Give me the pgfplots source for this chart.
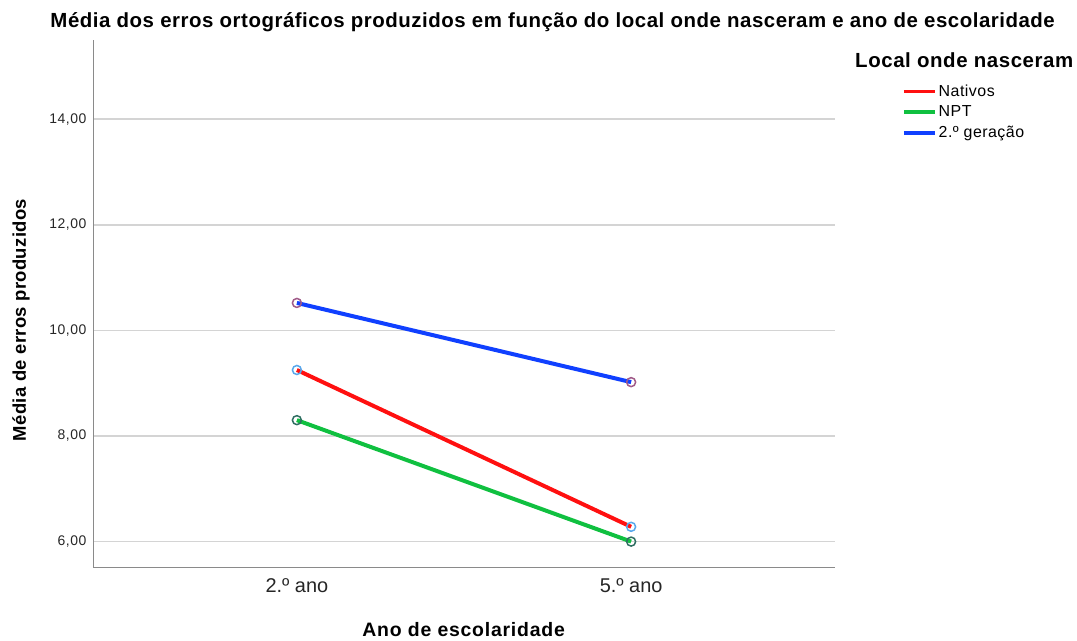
\documentclass[border=0pt]{standalone}
\usepackage{fontspec}
\setmainfont{Liberation Sans}
\usepackage{pgfplots}
\pgfplotsset{compat=1.18}
\definecolor{cRed}{HTML}{FF1010}
\definecolor{cGreen}{HTML}{10C040}
\definecolor{cBlue}{HTML}{1040FF}
\definecolor{mBlueLine}{HTML}{A05A88}
\definecolor{mRedLine}{HTML}{58A8EC}
\definecolor{mGreenLine}{HTML}{2F6E62}
\definecolor{gridc}{HTML}{D4D4D4}
\definecolor{axc}{HTML}{8A8A8A}
\newcommand\fs[2]{\fontsize{#1}{#1}\selectfont\addfontfeatures{LetterSpace=#2}}
\begin{document}
\begin{tikzpicture}[x=1bp,y=1bp]
\path[use as bounding box] (0,0) rectangle (1077,641);
\begin{axis}[
  at={(93bp,73bp)}, anchor=south west,
  scale only axis, width=742bp, height=528bp,
  xmin=-0.61, xmax=1.61, ymin=5.5, ymax=15.5,
  xtick={0,1}, xticklabels={2.º ano, 5.º ano},
  ytick={6,8,10,12,14},
  axis x line*=bottom, axis y line*=left,
  axis line style={draw=axc, line width=1bp, -},
  major tick length=0pt,
  ymajorgrids, grid style={draw=gridc, line width=1.6bp},
  /pgf/number format/.cd, fixed, fixed zerofill, precision=2, use comma, assume math mode=true,
  /pgfplots/.cd,
  yticklabel style={font=\fs{14}{4}, color=black!85, xshift=-3bp},
  xticklabel style={font=\fs{20}{0}, color=black!85, yshift=-7bp},
  xlabel={\textbf{Ano de escolaridade}},
  xlabel style={font=\bfseries\fs{19.5}{4}, at={(axis description cs:0.5,-0.116)}, anchor=center},
  ylabel={\textbf{Média de erros produzidos}},
  ylabel style={font=\bfseries\fs{18.5}{2}, at={(axis description cs:-0.097,0.47)}, anchor=center},
  clip=false,
  legend style={at={(axis description cs:1.0903,0.919)}, anchor=north west, draw=none, fill=none,
    font=\fs{16}{3}, row sep=4bp, inner sep=0pt},
  legend cell align=left,
  legend image code/.code={\draw[line width=3.5bp] (0bp,0bp) -- (31bp,0bp);},
]
\addplot[cRed, line width=4bp] coordinates {(0,9.25) (1,6.28)};
\addlegendentry{Nativos}
\addplot[cGreen, line width=4bp] coordinates {(0,8.30) (1,6.00)};
\addlegendentry{NPT}
\addplot[cBlue, line width=4bp] coordinates {(0,10.52) (1,9.02)};
\addlegendentry{2.º geração}
\addplot[only marks, mark=o, mark size=4.5bp, mRedLine, mark options={line width=1.5bp}, forget plot] coordinates {(0,9.25) (1,6.28)};
\addplot[only marks, mark=o, mark size=4.5bp, mGreenLine, mark options={line width=1.5bp}, forget plot] coordinates {(0,8.30) (1,6.00)};
\addplot[only marks, mark=o, mark size=4.5bp, mBlueLine, mark options={line width=1.5bp}, forget plot] coordinates {(0,10.52) (1,9.02)};
\node[font=\bfseries\fs{20.5}{2.6}, anchor=center] at (axis description cs:0.6195,1.034) {Média dos erros ortográficos produzidos em função do local onde nasceram e ano de escolaridade};
\node[font=\bfseries\fs{20.5}{2.8}, anchor=west, inner sep=0pt] at (axis description cs:1.027,0.962) {Local onde nasceram};
\end{axis}
\end{tikzpicture}
\end{document}
